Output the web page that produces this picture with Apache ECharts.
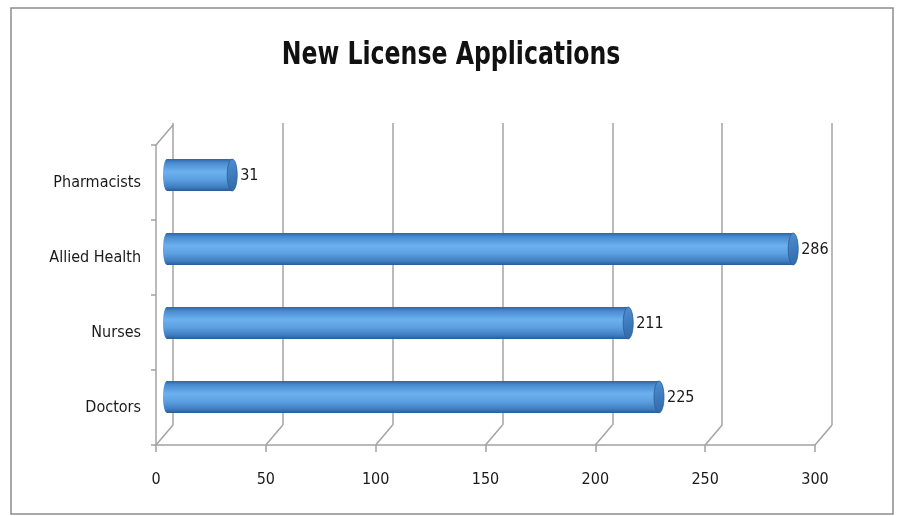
<!DOCTYPE html>
<html>
<head>
<meta charset="utf-8">
<style>
  html, body { margin: 0; padding: 0; background: #fff; }
  #chart { width: 898px; height: 516px; }
</style>
<script src="https://cdn.jsdelivr.net/npm/echarts@6/dist/echarts.min.js"></script>
</head>
<body>
<div id="chart"></div>
<script>
const categories = ['Doctors', 'Nurses', 'Allied Health', 'Pharmacists'];
const values = [225, 211, 286, 31];
const xTicks = [0, 50, 100, 150, 200, 250, 300];
const titleText = 'New License Applications';

const FONT = "'DejaVu Sans Condensed', 'Liberation Sans Narrow', sans-serif";
const GRID_COLOR = '#a3a3a3';
// depth offset of the back wall (3d look)
const DX = 17, DY = -20;

const chart = echarts.init(document.getElementById('chart'));

const barFill = {
    type: 'linear', x: 0, y: 0, x2: 0, y2: 1,
    colorStops: [
        { offset: 0, color: '#2e66a6' },
        { offset: 0.12, color: '#4a8bd0' },
        { offset: 0.4, color: '#6cb1ef' },
        { offset: 0.65, color: '#5b9fdf' },
        { offset: 0.88, color: '#3f7ec1' },
        { offset: 1, color: '#2a5d98' }
    ]
};

function renderBar(params, api) {
    const v = api.value(0);
    const cat = api.value(1);
    const start = api.coord([0, cat]);
    const end = api.coord([v, cat]);
    const h = api.size([0, 1])[1] * 0.43;
    return {
        type: 'group',
        children: [
            {
                type: 'ellipse',
                shape: { cx: start[0] + 3, cy: start[1], rx: 4, ry: h / 2 },
                style: { fill: barFill }
            },
            {
                type: 'rect',
                shape: { x: start[0] + 3, y: start[1] - h / 2, width: end[0] - start[0] - 3, height: h },
                style: { fill: barFill }
            },
            {
                type: 'ellipse',
                shape: { cx: end[0], cy: end[1], rx: 5, ry: h / 2 },
                style: {
                    fill: {
                        type: 'linear', x: 0, y: 0, x2: 1, y2: 1,
                        colorStops: [
                            { offset: 0, color: '#4f8fd2' },
                            { offset: 1, color: '#2f68a8' }
                        ]
                    },
                    stroke: '#2a5d98', lineWidth: 0.8
                }
            },
            {
                type: 'text',
                x: end[0] + 8, y: end[1] + 1,
                style: {
                    text: String(v), fontSize: 16, fontFamily: FONT,
                    fill: '#1a1a1a', verticalAlign: 'middle', align: 'left'
                }
            }
        ]
    };
}

function renderFloor(params, api) {
    const v = api.value(0);
    const cs = params.coordSys;
    const x = api.coord([v, 0])[0];
    const y = cs.y + cs.height;
    const lines = [{
        type: 'line',
        shape: { x1: x, y1: y, x2: x + DX, y2: y + DY },
        style: { stroke: GRID_COLOR, lineWidth: 1.5 }
    }];
    if (params.dataIndex === 0) {
        lines.push({
            type: 'line',
            shape: { x1: x, y1: cs.y, x2: x + DX, y2: cs.y + DY },
            style: { stroke: GRID_COLOR, lineWidth: 1.5 }
        });
    }
    return { type: 'group', children: lines };
}

const option = {
    animation: false,
    backgroundColor: '#fff',
    graphic: [
        {
            type: 'rect',
            shape: { x: 11, y: 8, width: 882, height: 506 },
            style: { fill: 'none', stroke: '#8c8c8c', lineWidth: 1.5 },
            z: -1
        },
        {
            // title, a bit narrowed like the original's condensed face
            type: 'text',
            x: 451, y: 56,
            scaleX: 0.82,
            style: {
                text: titleText, fontFamily: FONT, fontSize: 32, fontWeight: 'bold',
                fill: '#111', align: 'center', verticalAlign: 'middle'
            }
        }
    ],
    grid: [
        // back wall
        { left: 173, right: 66, top: 123, bottom: 91 },
        // front plane (axes)
        { left: 156, right: 83, top: 145, bottom: 71 },
        // middle plane (bars)
        { left: 164, right: 74, top: 138, bottom: 82 }
    ],
    xAxis: [
        {
            gridIndex: 0, type: 'value', min: 0, max: 300, interval: 50,
            axisLine: { show: false }, axisTick: { show: false }, axisLabel: { show: false },
            splitLine: { show: true, lineStyle: { color: GRID_COLOR, width: 1.5 } }
        },
        {
            gridIndex: 1, type: 'value', min: 0, max: 300, interval: 50,
            axisLine: { show: true, lineStyle: { color: GRID_COLOR, width: 1.5 } },
            axisTick: { show: true, length: 7, lineStyle: { color: GRID_COLOR, width: 1.5 } },
            axisLabel: { color: '#1a1a1a', fontSize: 16, fontFamily: FONT, margin: 27 },
            splitLine: { show: false }
        },
        {
            gridIndex: 2, type: 'value', min: 0, max: 300, interval: 50, show: false
        }
    ],
    yAxis: [
        { gridIndex: 0, type: 'category', data: categories, show: false },
        {
            gridIndex: 1, type: 'category', data: categories,
            axisLine: { show: true, lineStyle: { color: GRID_COLOR, width: 1.5 } },
            axisTick: { show: true, length: 5, lineStyle: { color: GRID_COLOR, width: 1.5 } },
            axisLabel: { color: '#1a1a1a', fontSize: 16, fontFamily: FONT, margin: 15 },
            splitLine: { show: false }
        },
        { gridIndex: 2, type: 'category', data: categories, show: false }
    ],
    series: [
        {
            type: 'custom',
            xAxisIndex: 1, yAxisIndex: 1,
            renderItem: renderFloor,
            data: xTicks.map(t => [t]),
            silent: true
        },
        {
            type: 'custom',
            xAxisIndex: 2, yAxisIndex: 2,
            renderItem: renderBar,
            data: values.map((v, i) => [v, i]),
            z: 5
        }
    ]
};
chart.setOption(option);
</script>
</body>
</html>
